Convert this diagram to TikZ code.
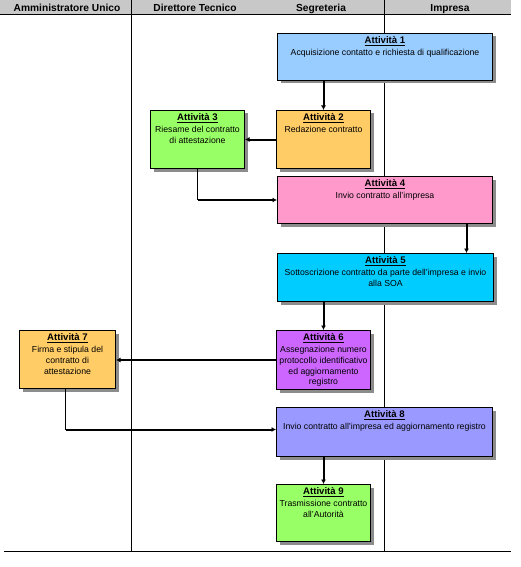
\documentclass[tikz,border=0pt]{standalone}
\usepackage{fontspec}
\setmainfont{Liberation Sans}
\usetikzlibrary{arrows.meta,shadows}
\definecolor{hdrgray}{RGB}{200,200,200}
\definecolor{cblue}{RGB}{153,204,255}
\definecolor{corange}{RGB}{255,204,102}
\definecolor{cgreen}{RGB}{153,255,102}
\definecolor{cpink}{RGB}{255,153,204}
\definecolor{ccyan}{RGB}{0,204,255}
\definecolor{cpurple}{RGB}{204,102,255}
\definecolor{clilac}{RGB}{153,153,255}
\newcommand\acttitle[1]{{\fontsize{9.6}{10.7}\selectfont\underline{\textbf{#1}}}\\[1.2pt]}
\begin{document}
\begin{tikzpicture}[x=1pt,y=-1pt,
  act/.style={draw=black, line width=1pt, inner sep=0pt, anchor=north west,
    drop shadow={shadow xshift=3pt, shadow yshift=-3pt, fill=black!45, opacity=1}},
  acttext/.style={anchor=north, align=center, inner sep=0pt,
    font=\fontsize{8.7}{10.7}\selectfont},
  hdrtext/.style={font=\fontsize{10.2}{11}\selectfont\bfseries, inner sep=0pt, anchor=base},
  lane/.style={line width=1pt},
  thinline/.style={line width=1pt},
  arr/.style={line width=2pt, -{Latex[length=4.5pt,width=5pt]}}
]
\useasboundingbox (0,0) rectangle (520,567);

% header
\fill[hdrgray] (0,0) rectangle (511,14.5);
\draw[lane] (0,14.5) -- (511,14.5);
\draw[lane] (131.5,0) -- (131.5,551.5);
\draw[lane] (384.5,0) -- (384.5,551.5);
\draw[lane] (4,551.5) -- (511,551.5);
\node[hdrtext] (h1) at (67,11.5) {Amministratore Unico};
\node[hdrtext] (h2) at (195,11.5) {Direttore Tecnico};
\node[hdrtext] (h3) at (321,11.5) {Segreteria};
\node[hdrtext] (h4) at (450,11.5) {Impresa};

% boxes
\node[act, fill=cblue, minimum width=215pt, minimum height=47pt] (a1) at (277,33) {};
\node[act, fill=corange, minimum width=94pt, minimum height=58pt] (a2) at (276,110) {};
\node[act, fill=cgreen, minimum width=94pt, minimum height=58pt] (a3) at (150,110) {};
\node[act, fill=cpink, minimum width=215pt, minimum height=47pt] (a4) at (277,176) {};
\node[act, fill=ccyan, minimum width=216pt, minimum height=48pt] (a5) at (277,253) {};
\node[act, fill=cpurple, minimum width=94pt, minimum height=59pt] (a6) at (276,330) {};
\node[act, fill=corange, minimum width=96pt, minimum height=58pt] (a7) at (19,330) {};
\node[act, fill=clilac, minimum width=216pt, minimum height=49pt] (a8) at (276,407) {};
\node[act, fill=cgreen, minimum width=94pt, minimum height=57pt] (a9) at (276,484) {};

% texts
\node[acttext] (t1) at ([yshift=-3.5pt]a1.north) {\acttitle{Attività 1}Acquisizione contatto e richiesta di qualificazione};
\node[acttext] (t2) at ([yshift=-3.5pt]a2.north) {\acttitle{Attività 2}Redazione contratto};
\node[acttext] (t3) at ([yshift=-3.5pt]a3.north) {\acttitle{Attività 3}Riesame del contratto\\di attestazione};
\node[acttext] (t4) at ([yshift=-3.5pt]a4.north) {\acttitle{Attività 4}Invio contratto all'impresa};
\node[acttext] (t5) at ([yshift=-3.5pt]a5.north) {\acttitle{Attività 5}Sottoscrizione contratto da parte dell'impresa e invio\\alla SOA};
\node[acttext] (t6) at ([yshift=-3.5pt]a6.north) {\acttitle{Attività 6}Assegnazione numero\\protocollo identificativo\\ed aggiornamento\\registro};
\node[acttext] (t7) at ([yshift=-3.5pt]a7.north) {\acttitle{Attività 7}Firma e stipula del\\contratto di\\attestazione};
\node[acttext] (t8) at ([yshift=-3.5pt]a8.north) {\acttitle{Attività 8}Invio contratto all'impresa ed aggiornamento registro};
\node[acttext] (t9) at ([yshift=-3.5pt]a9.north) {\acttitle{Attività 9}Trasmissione contratto\\all'Autorità};

% connectors
\draw[arr] (a2.north |- a1.south) -- (a2.north);
\draw[arr] (a2.west) -- (a3.east);
\draw[thinline] (a3.south) -- (a3.south |- a4.west);
\draw[arr] (a3.south |- a4.west) -- (a4.west);
\draw[arr] ([xshift=81.5pt]a4.south) -- ([xshift=81.5pt]a4.south |- a5.north);
\draw[arr] (a6.north |- a5.south) -- (a6.north);
\draw[arr] (a6.west) -- (a7.east |- a6.west);
\coordinate (c78) at ([yshift=2.5pt]a8.west);
\draw[thinline] ([xshift=-2pt]a7.south) -- ([xshift=-2pt]a7.south |- c78);
\draw[arr] ([xshift=-2pt]a7.south |- c78) -- (c78);
\draw[arr] (a9.north |- a8.south) -- (a9.north);
\end{tikzpicture}
\end{document}
